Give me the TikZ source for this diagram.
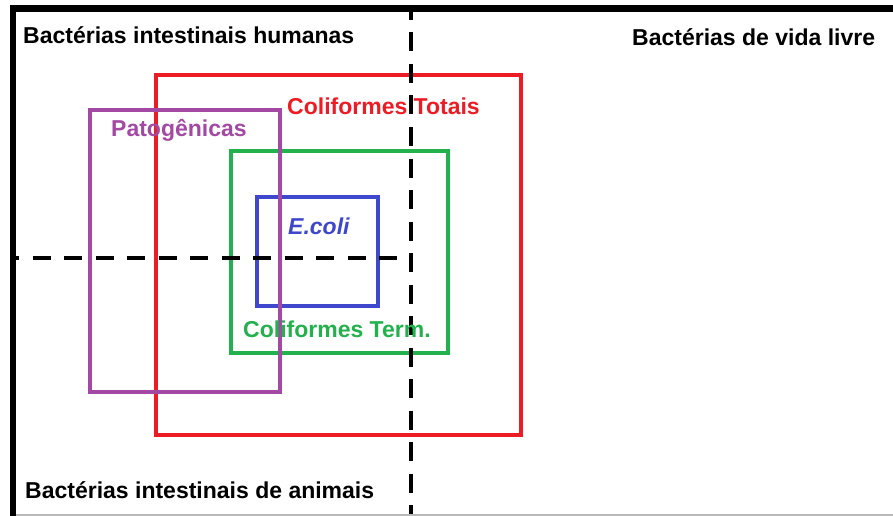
\documentclass[tikz,border=0pt]{standalone}
\usepackage{fontspec}
\setmainfont{Liberation Sans}
\definecolor{pred}{HTML}{ED1C24}
\definecolor{ppurple}{HTML}{A349A4}
\definecolor{pgreen}{HTML}{22B14C}
\definecolor{pblue}{HTML}{3F48CC}
\tikzset{
  setbox/.style={line width=4pt},
  divider/.style={line width=4pt},
  lbl/.style={anchor=base west, inner sep=0pt, font=\fontsize{23}{27}\selectfont\bfseries},
}
\begin{document}
\begin{tikzpicture}[x=1pt,y=-1pt]
\useasboundingbox (0,0) rectangle (893,516);
% sets
\draw[setbox, pred] (156,75) rectangle (520.5,434.5);
\draw[setbox, pgreen] (231,150.5) rectangle (448,353);
\draw[setbox, pblue] (256.5,196.5) rectangle (378,306);
\draw[setbox, ppurple] (90,110.5) rectangle (279.5,392);
% dividers
\coordinate (vtop) at (411,12);
\coordinate (vbot) at (411,516);
\coordinate (hleft) at (16,258);
\coordinate (hright) at (398,258);
\draw[divider, dash pattern=on 19pt off 12.5pt, dash phase=11pt] (vtop) -- (vbot);
\draw[divider, dash pattern=on 18pt off 13.5pt, dash phase=15pt] (hleft) -- (hright);
% frame
\coordinate (tl) at (13,8.5);
\coordinate (tr) at (893,8.5);
\coordinate (bl) at (13,516);
\draw[gray!55, line width=2pt] (16,514.5) -- (893,514.5);
\draw[line width=7pt] (tr) -- (10,8.5);
\draw[line width=6pt] (13,5) -- (bl);
% labels
\node[lbl] (hum) at (23,44) {Bactérias intestinais humanas};
\node[lbl] (vida) at (632,46) {Bactérias de vida livre};
\node[lbl] (anim) at (25,498) {Bactérias intestinais de animais};
\node[lbl, text=pred] (ct) at (287,114) {Coliformes Totais};
\node[lbl, text=ppurple] (pat) at (111,136) {Patogênicas};
\node[lbl, text=pblue, font=\fontsize{23}{27}\selectfont\bfseries\itshape] (eco) at (288,234) {E.coli};
\node[lbl, text=pgreen] (cterm) at (243,337) {Coliformes Term.};
\end{tikzpicture}
\end{document}
